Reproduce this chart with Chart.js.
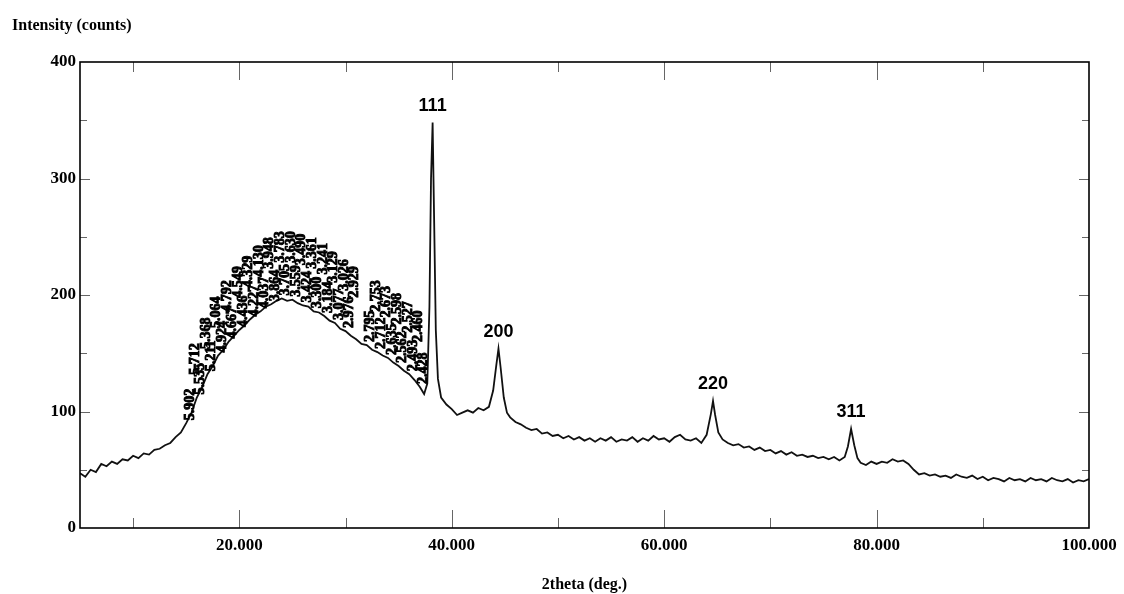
<!DOCTYPE html>
<html>
<head>
<meta charset="utf-8">
<script src="https://cdn.jsdelivr.net/npm/chart.js"></script>
<style>
	body { margin: 0; background: #fff; }
	#xrd { display: block; }
</style>
</head>
<body>
<canvas id="xrd" width="1124" height="594"></canvas>
<script>
// 2theta (deg.) and intensity (counts)
var twoTheta = [
	5.0, 5.5, 6.0, 6.5, 7.0, 7.5, 8.0, 8.5, 9.0, 9.5,
	10.0, 10.5, 11.0, 11.5, 12.0, 12.5, 13.0, 13.5, 14.0, 14.5,
	15.0, 15.5, 16.0, 16.5, 17.0, 17.5, 18.0, 18.5, 19.0, 19.5,
	20.0, 20.5, 21.0, 21.5, 22.0, 22.5, 23.0, 23.5, 24.0, 24.5,
	25.0, 25.5, 26.0, 26.5, 27.0, 27.5, 28.0, 28.5, 29.0, 29.5,
	30.0, 30.5, 31.0, 31.5, 32.0, 32.5, 33.0, 33.5, 34.0, 34.5,
	35.0, 35.5, 36.0, 36.5, 37.0, 37.4, 37.7, 37.9, 38.05, 38.2,
	38.35, 38.5, 38.7, 39.0, 39.5, 40.0, 40.5, 41.0, 41.5, 42.0,
	42.5, 43.0, 43.5, 43.9, 44.2, 44.4, 44.6, 44.9, 45.2, 45.5,
	46.0, 46.5, 47.0, 47.5, 48.0, 48.5, 49.0, 49.5, 50.0, 50.5,
	51.0, 51.5, 52.0, 52.5, 53.0, 53.5, 54.0, 54.5, 55.0, 55.5,
	56.0, 56.5, 57.0, 57.5, 58.0, 58.5, 59.0, 59.5, 60.0, 60.5,
	61.0, 61.5, 62.0, 62.5, 63.0, 63.5, 64.0, 64.4, 64.6, 64.8,
	65.1, 65.5, 66.0, 66.5, 67.0, 67.5, 68.0, 68.5, 69.0, 69.5,
	70.0, 70.5, 71.0, 71.5, 72.0, 72.5, 73.0, 73.5, 74.0, 74.5,
	75.0, 75.5, 76.0, 76.5, 77.0, 77.3, 77.6, 77.9, 78.2, 78.5,
	79.0, 79.5, 80.0, 80.5, 81.0, 81.5, 82.0, 82.5, 83.0, 83.5,
	84.0, 84.5, 85.0, 85.5, 86.0, 86.5, 87.0, 87.5, 88.0, 88.5,
	89.0, 89.5, 90.0, 90.5, 91.0, 91.5, 92.0, 92.5, 93.0, 93.5,
	94.0, 94.5, 95.0, 95.5, 96.0, 96.5, 97.0, 97.5, 98.0, 98.5,
	99.0, 99.5, 100.0
];
var counts = [
	47, 44, 50, 48, 55, 53, 57, 55, 59, 58,
	62, 60, 64, 63, 67, 68, 71, 73, 78, 82,
	90, 99, 112, 121, 132, 139, 148, 153, 160, 165,
	170, 174, 179, 183, 186, 190, 192, 195, 197, 195,
	196, 193, 191, 190, 186, 185, 182, 178, 176, 171,
	169, 165, 162, 158, 157, 153, 151, 148, 146, 142,
	139, 135, 132, 127, 121, 115, 124, 190, 300, 348,
	260, 170, 128, 112, 106, 102, 97, 99, 101, 99,
	103, 101, 104, 118, 140, 154, 138, 112, 99, 95,
	91, 89, 86, 84, 85, 81, 82, 79, 80, 77,
	79, 76, 78, 75, 77, 74, 77, 75, 78, 74,
	76, 75, 78, 74, 77, 75, 79, 76, 77, 74,
	78, 80, 76, 75, 77, 73, 80, 98, 109, 97,
	82, 76, 73, 71, 72, 69, 70, 67, 69, 66,
	67, 64, 66, 63, 65, 62, 63, 61, 62, 60,
	61, 59, 61, 58, 61, 70, 85, 71, 60, 56,
	54, 57, 55, 57, 56, 59, 57, 58, 55, 50,
	46, 47, 45, 46, 44, 45, 43, 46, 44, 43,
	45, 42, 44, 41, 43, 42, 40, 43, 41, 42,
	40, 43, 41, 42, 40, 43, 41, 40, 42, 39,
	41, 40, 42
];

// labelled reflections
var peakTheta = [38.2, 44.4, 64.6, 77.6];
var peakLabels = ['111', '200', '220', '311'];

// d-spacing labels printed over the amorphous hump
var humpTheta = [
	15.0, 15.5, 16.0, 16.5, 17.0, 17.5, 18.0, 18.5, 19.0, 19.5, 20.0,
	20.5, 21.0, 21.5, 22.0, 22.5, 23.0, 23.5, 24.0, 24.5, 25.0,
	25.5, 26.0, 26.5, 27.0, 27.5, 28.0, 28.5, 29.0, 29.5, 30.0,
	30.5, 32.0, 32.5, 33.0, 33.5, 34.0, 34.5, 35.0, 35.5, 36.0,
	36.5, 37.0
];
var humpText = [
	'5.902', '5.712', '5.535', '5.368', '5.211', '5.064', '4.924', '4.792', '4.667', '4.549', '4.436',
	'4.329', '4.227', '4.130', '4.037', '3.948', '3.864', '3.783', '3.705', '3.630', '3.559',
	'3.490', '3.424', '3.361', '3.300', '3.241', '3.184', '3.129', '3.077', '3.026', '2.976',
	'2.929', '2.795', '2.753', '2.712', '2.673', '2.635', '2.598', '2.562', '2.527', '2.493',
	'2.460', '2.428'
];

var xTicks = [20, 40, 60, 80, 100];
var yTicks = [0, 100, 200, 300, 400];

var serif = "'Liberation Serif', 'Times New Roman', serif";

function countsAt(t) {
	var best = 0;
	for (var i = 0; i < twoTheta.length; i++) {
		if (Math.abs(twoTheta[i] - t) < Math.abs(twoTheta[best] - t)) best = i;
	}
	return counts[best];
}

var points = [];
for (var i in twoTheta) {
	points.push({x: twoTheta[i], y: counts[i]});
}

// frame, inward ticks and all the printed annotations
var decorations = {
	id: 'decorations',
	afterDraw: function(chart) {
		var ctx = chart.ctx;
		var a = chart.chartArea;
		var xs = chart.scales.x;
		var ys = chart.scales.y;
		ctx.save();

		ctx.strokeStyle = '#666';
		ctx.lineWidth = 1;
		for (var v = 10; v < 100; v += 10) {
			var px = Math.round(xs.getPixelForValue(v)) + 0.5;
			var len = v % 20 === 0 ? 18 : 10;
			ctx.beginPath();
			ctx.moveTo(px, a.bottom); ctx.lineTo(px, a.bottom - len);
			ctx.moveTo(px, a.top); ctx.lineTo(px, a.top + len);
			ctx.stroke();
		}
		for (var w = 50; w < 400; w += 50) {
			var py = Math.round(ys.getPixelForValue(w)) + 0.5;
			var l2 = w % 100 === 0 ? 10 : 7;
			ctx.beginPath();
			ctx.moveTo(a.left, py); ctx.lineTo(a.left + l2, py);
			ctx.moveTo(a.right, py); ctx.lineTo(a.right - l2, py);
			ctx.stroke();
		}

		ctx.strokeStyle = '#000';
		ctx.lineWidth = 1.6;
		ctx.strokeRect(a.left, a.top, a.right - a.left, a.bottom - a.top);

		ctx.fillStyle = '#000';
		ctx.font = 'bold 16px ' + serif;
		ctx.textAlign = 'left';
		ctx.textBaseline = 'alphabetic';
		ctx.fillText('Intensity (counts)', 12, 30);

		ctx.font = 'bold 18px "Liberation Sans", Arial, sans-serif';
		ctx.textAlign = 'center';
		ctx.textBaseline = 'bottom';
		for (var k in peakTheta) {
			var cx = xs.getPixelForValue(peakTheta[k]);
			var cy = ys.getPixelForValue(countsAt(peakTheta[k]));
			ctx.fillText(peakLabels[k], cx, cy - 8);
		}

		ctx.font = 'bold 14px ' + serif;
		ctx.textAlign = 'left';
		ctx.textBaseline = 'middle';
		ctx.strokeStyle = '#000';
		ctx.lineWidth = 0.9;
		for (var j in humpTheta) {
			var hx = xs.getPixelForValue(humpTheta[j]);
			var hy = ys.getPixelForValue(countsAt(humpTheta[j]));
			var lift = j % 2 === 0 ? 3 : 38;
			ctx.save();
			ctx.translate(hx + 4, hy - lift);
			ctx.rotate(-Math.PI / 2);
			ctx.fillText(humpText[j], 0, 0);
			ctx.strokeText(humpText[j], 0, 0);
			ctx.restore();
		}
		ctx.restore();
	}
};

var ctx = document.getElementById('xrd');

var xrdChart = new Chart(ctx, {
	type: 'line',
	data: {
		datasets: [
			{
				label: 'XRD',
				data: points,
				borderColor: '#111',
				borderWidth: 1.8,
				pointRadius: 0,
				fill: false,
				tension: 0
			}
		]
	},
	options: {
		responsive: false,
		animation: false,
		layout: { padding: { top: 62, right: 35, left: 0, bottom: 0 } },
		plugins: {
			legend: { display: false },
			tooltip: { enabled: false }
		},
		scales: {
			x: {
				type: 'linear',
				min: 5,
				max: 100,
				afterBuildTicks: function(s) {
					s.ticks = xTicks.map(function(v) { return {value: v}; });
				},
				afterFit: function(s) { s.height = 66; },
				grid: { display: false, drawTicks: false },
				border: { display: false },
				ticks: {
					color: '#000',
					padding: 7,
					maxRotation: 0,
					font: { family: serif, size: 17, weight: 'bold' },
					callback: function(v) { return v.toFixed(3); }
				},
				title: {
					display: true,
					text: '2theta (deg.)',
					color: '#000',
					padding: { top: 0, bottom: 0 },
					font: { family: serif, size: 16, weight: 'bold' }
				}
			},
			y: {
				min: 0,
				max: 400,
				afterBuildTicks: function(s) {
					s.ticks = yTicks.map(function(v) { return {value: v}; });
				},
				afterFit: function(s) { s.width = 80; },
				grid: { display: false, drawTicks: false },
				border: { display: false },
				ticks: {
					color: '#000',
					padding: 4,
					font: { family: serif, size: 17, weight: 'bold' }
				}
			}
		}
	},
	plugins: [decorations]
});
</script>
</body>
</html>
